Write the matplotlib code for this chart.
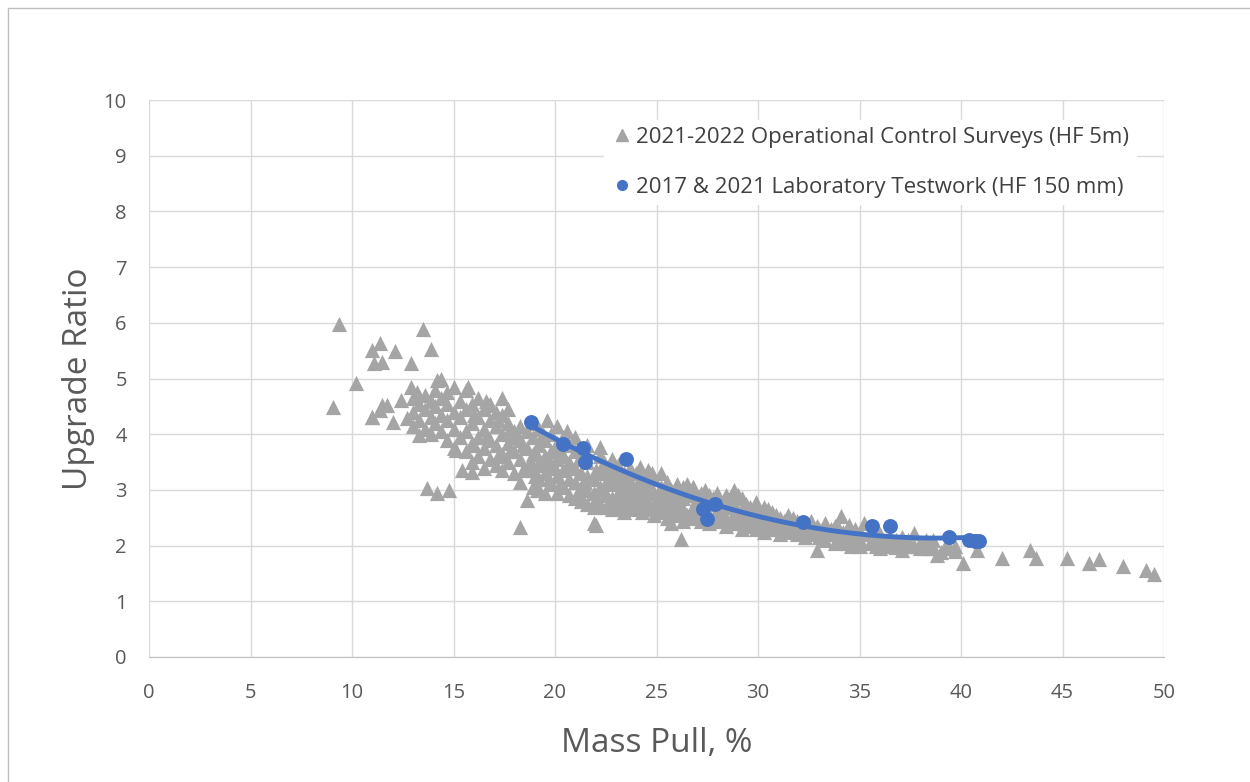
import matplotlib.pyplot as plt
import numpy as np
from matplotlib.lines import Line2D

# 2021-2022 operational control surveys (HF 5m)
survey_mass_pull = [
    9.06, 9.36, 10.2, 11.0, 11.4, 11.1, 11.5, 12.1, 11.0, 11.5, 12.9, 13.5, 13.9,
    11.0, 11.4, 11.7, 12.0, 12.4, 12.9, 13.2, 14.2, 14.4, 12.7, 13.3, 13.7, 14.2,
    14.8, 15.4, 15.9, 15.1, 15.7, 17.4, 16.7, 19.6, 18.6, 18.3, 21.9, 19.1, 26.2,
    22.0, 24.2, 26.8, 28.8, 25.7, 29.2, 31.5,
    34.1, 40.1, 42.0, 43.4, 43.7, 45.2, 46.3, 46.8, 48.0, 49.1, 49.5, 40.8,
    36.0, 37.1, 39.0, 37.7, 35.0, 34.5, 35.2, 32.9, 38.8,
    13.0, 13.0, 13.0, 13.3, 13.3, 13.6, 13.6, 13.6, 13.9, 13.9, 13.9,
    14.1, 14.1, 14.1, 14.4, 14.4, 14.4, 14.7, 14.7, 14.7, 14.7,
    15.0, 15.0, 15.0, 15.0, 15.3, 15.3, 15.3, 15.6, 15.6, 15.6, 15.6,
    15.9, 15.9, 15.9, 15.9, 16.2, 16.2, 16.2, 16.2, 16.5, 16.5, 16.5, 16.5,
    16.8, 16.8, 16.8, 16.8, 17.1, 17.1, 17.1, 17.1, 17.4, 17.4, 17.4, 17.4,
    17.7, 17.7, 17.7, 17.7, 18.0, 18.0, 18.0, 18.0, 18.3, 18.3, 18.3, 18.3,
    18.6, 18.6, 18.6, 18.9, 18.9, 18.9, 18.9, 19.2, 19.2, 19.2, 19.2, 19.2,
    19.5, 19.5, 19.5, 19.5, 19.8, 19.8, 19.8, 19.8, 20.1, 20.1, 20.1, 20.1, 20.1,
    20.4, 20.4, 20.4, 20.4, 20.7, 20.7, 20.7, 20.7, 21.0, 21.0, 21.0, 21.0, 21.0,
    21.3, 21.3, 21.3, 21.3, 21.6, 21.6, 21.6, 21.6, 21.6, 21.9, 21.9, 21.9,
    22.2, 22.2, 22.2, 22.2, 22.2, 22.5, 22.5, 22.5, 22.5, 22.8, 22.8, 22.8, 22.8, 22.8,
    23.1, 23.1, 23.1, 23.1, 23.4, 23.4, 23.4, 23.4, 23.7, 23.7, 23.7, 23.7,
    24.0, 24.0, 24.0, 24.0, 24.3, 24.3, 24.3, 24.3, 24.6, 24.6, 24.6, 24.6,
    24.9, 24.9, 24.9, 24.9, 25.2, 25.2, 25.2, 25.2, 25.5, 25.5, 25.5, 25.5,
    25.7, 25.7, 25.7, 26.0, 26.0, 26.0, 26.0, 26.3, 26.3, 26.3, 26.3,
    26.8, 26.8, 26.8, 26.8, 27.2, 27.2, 27.2, 27.2, 27.6, 27.6, 27.6, 27.6,
    28.0, 28.0, 28.0, 28.0, 28.4, 28.4, 28.4, 28.4, 28.8, 28.8, 28.8,
    29.2, 29.2, 29.2, 29.6, 29.6, 29.6, 29.9, 29.9, 29.9, 29.9,
    30.3, 30.3, 30.3, 30.3, 30.7, 30.7, 30.7, 31.1, 31.1, 31.1, 31.5, 31.5,
    31.9, 31.9, 31.9, 32.3, 32.3, 32.3, 32.9, 32.9, 33.3, 33.3, 33.3,
    33.8, 33.8, 33.8, 34.2, 34.2, 34.6, 34.6, 35.0, 35.0, 35.5, 35.5,
    36.0, 36.0, 36.5, 36.5, 37.1, 37.1, 37.7, 38.3, 38.3, 38.3, 39.3, 39.3, 39.7, 39.7,
    16.0, 16.0, 16.6, 16.6, 17.2, 17.2, 17.8, 17.8, 18.4, 18.4, 18.8, 18.8,
    19.0, 19.0, 19.4, 19.4, 19.7, 19.7, 20.0, 20.0, 20.3, 20.3, 20.6, 20.6,
    21.2, 21.2, 21.5, 21.5, 22.0, 22.0, 22.4, 22.4, 22.7, 22.7, 23.0, 23.0,
    23.3, 23.3, 23.6, 23.6, 24.2, 24.2, 24.5, 24.5, 24.8, 24.8, 25.1, 25.1,
    25.4, 25.4, 26.1, 26.1, 26.5, 26.5, 26.5, 27.0, 27.0, 27.4, 27.4, 27.8, 27.8,
    28.2, 28.2, 28.6, 28.6, 29.0, 29.0, 29.0, 29.4, 29.4, 30.1, 30.1, 30.5, 30.5,
    30.9, 30.9, 31.3, 31.3, 31.7, 31.7, 32.6, 32.6, 33.0, 33.0, 33.6, 33.6,
    34.0, 34.0, 34.4, 34.4, 34.8, 34.8, 35.8, 35.8, 36.3, 36.3, 36.8, 36.8,
    37.4, 37.4, 38.0, 38.0, 38.6, 38.6,
]
survey_upgrade = [
    4.49, 5.98, 4.92, 5.51, 5.64, 5.28, 5.30, 5.49, 4.31, 4.52, 5.28, 5.89, 5.53,
    4.31, 4.43, 4.52, 4.22, 4.61, 4.85, 4.76, 4.97, 5.00, 4.29, 3.99, 3.03, 2.94,
    3.00, 3.36, 3.33, 3.72, 4.85, 4.65, 4.52, 4.25, 2.82, 2.34, 2.40, 3.00, 2.12,
    2.37, 3.41, 3.05, 3.00, 2.41, 2.85, 2.55,
    2.53, 1.69, 1.78, 1.92, 1.78, 1.78, 1.69, 1.76, 1.63, 1.56, 1.49, 1.92,
    1.96, 1.92, 1.89, 2.22, 2.00, 2.37, 2.40, 1.92, 1.83,
    4.40, 4.15, 4.65, 4.25, 4.55, 4.45, 4.10, 4.70, 4.30, 4.00, 4.60,
    4.20, 4.50, 4.80, 4.05, 4.35, 4.65, 3.90, 4.25, 4.55, 4.75,
    4.10, 4.40, 3.75, 4.85, 3.95, 4.30, 4.60, 3.70, 4.05, 4.45, 4.80,
    3.85, 4.20, 4.55, 3.50, 3.60, 3.95, 4.30, 4.65, 3.75, 4.10, 4.45, 3.40,
    3.55, 3.90, 4.25, 4.55, 3.45, 3.80, 4.15, 4.40, 3.65, 4.00, 4.35, 3.35,
    3.50, 3.85, 4.20, 4.45, 3.30, 3.70, 4.05, 3.95, 3.15, 3.55, 3.90, 4.15,
    3.40, 3.75, 4.05, 3.05, 3.35, 3.65, 3.95, 3.20, 3.50, 3.80, 4.10, 3.00,
    2.95, 3.30, 3.60, 3.90, 3.10, 3.40, 3.70, 4.00, 2.95, 3.25, 3.55, 3.85, 4.15,
    3.05, 3.35, 3.60, 3.95, 2.90, 3.20, 3.50, 3.80, 2.85, 3.15, 3.40, 3.70, 3.95,
    2.80, 3.05, 3.30, 3.60, 2.75, 3.00, 3.25, 3.50, 3.80, 2.69, 2.95, 3.20,
    2.75, 3.05, 3.30, 3.60, 3.77, 2.70, 2.90, 3.15, 3.40, 2.65, 2.85, 3.10, 3.35, 3.55,
    2.75, 2.95, 3.20, 3.45, 2.60, 2.85, 3.05, 3.30, 2.70, 2.90, 3.15, 3.40,
    2.65, 2.85, 3.05, 3.30, 2.60, 2.80, 3.00, 3.25, 2.70, 2.95, 3.15, 3.35,
    2.55, 2.75, 2.95, 3.20, 2.65, 2.85, 3.05, 3.30, 2.50, 2.70, 2.90, 3.15,
    2.60, 2.80, 3.00, 2.55, 2.75, 2.95, 3.10, 2.45, 2.65, 2.85, 3.05,
    2.50, 2.70, 2.90, 3.05, 2.45, 2.60, 2.80, 2.95, 2.40, 2.55, 2.75, 2.90,
    2.45, 2.60, 2.80, 2.95, 2.35, 2.50, 2.70, 2.90, 2.40, 2.55, 2.75,
    2.30, 2.50, 2.65, 2.35, 2.50, 2.70, 2.30, 2.45, 2.60, 2.78,
    2.25, 2.40, 2.55, 2.70, 2.30, 2.45, 2.60, 2.20, 2.35, 2.50, 2.25, 2.40,
    2.20, 2.30, 2.45, 2.15, 2.30, 2.40, 2.20, 2.35, 2.10, 2.25, 2.40,
    2.05, 2.20, 2.35, 2.10, 2.25, 2.00, 2.15, 2.10, 2.25, 2.05, 2.20,
    2.10, 2.20, 2.05, 2.15, 2.05, 2.15, 2.00, 1.95, 2.05, 2.10, 1.95, 2.05, 1.90, 2.00,
    3.80, 4.35, 3.95, 4.60, 3.60, 4.25, 3.70, 4.10, 3.35, 3.80, 3.50, 4.20,
    3.25, 3.70, 3.45, 4.00, 3.20, 3.55, 3.40, 3.75, 3.15, 3.70, 3.40, 4.05,
    2.95, 3.55, 3.15, 3.70, 2.85, 3.35, 3.00, 3.50, 2.80, 3.25, 2.70, 3.40,
    2.95, 3.15, 2.80, 3.25, 2.75, 3.15, 2.85, 3.05, 2.65, 3.30, 2.75, 2.95,
    2.60, 3.05, 2.65, 2.85, 2.55, 2.95, 3.10, 2.55, 2.85, 2.70, 3.00, 2.50, 2.85,
    2.55, 2.75, 2.45, 2.85, 2.40, 2.60, 2.90, 2.45, 2.75, 2.35, 2.50, 2.40, 2.65,
    2.30, 2.55, 2.30, 2.45, 2.35, 2.50, 2.25, 2.45, 2.15, 2.30, 2.20, 2.30,
    2.15, 2.30, 2.05, 2.20, 2.10, 2.30, 2.00, 2.15, 2.00, 2.10, 1.98, 2.10,
    2.00, 2.10, 1.95, 2.05, 1.95, 2.10,
]

# 2017 & 2021 laboratory testwork (HF 150 mm)
lab_mass_pull = [18.8, 20.4, 21.4, 21.5, 23.5, 27.3, 27.5, 27.9, 32.2, 35.6, 36.5, 39.4, 40.4, 40.7, 40.9]
lab_upgrade = [4.22, 3.82, 3.75, 3.50, 3.55, 2.65, 2.48, 2.75, 2.42, 2.35, 2.35, 2.15, 2.10, 2.08, 2.08]

grey = '#A5A5A5'
blue = '#4472C4'
text_grey = '#595959'

plt.rcParams['font.family'] = ['Open Sans', 'DejaVu Sans']

W, H = 1250, 782
fig = plt.figure(figsize=(12.5, 7.82), dpi=100)
ax = fig.add_axes([149 / W, 1 - 657 / H, (1164 - 149) / W, (657 - 100) / H])

ax.scatter(survey_mass_pull, survey_upgrade, marker='^', s=120, color=grey, linewidths=0, zorder=3)

# polynomial trend line through the lab points (like the Excel trendline)
coef = np.polyfit(lab_mass_pull, lab_upgrade, 2)
xs = np.linspace(min(lab_mass_pull), max(lab_mass_pull), 200)
ax.plot(xs, np.polyval(coef, xs), color=blue, lw=3.5, zorder=4, solid_capstyle='round')
ax.scatter(lab_mass_pull, lab_upgrade, marker='o', s=115, color=blue, linewidths=0, zorder=5)

ax.set_xlim(0, 50)
ax.set_ylim(0, 10)
ax.set_xticks(range(0, 51, 5))
ax.set_yticks(range(0, 11))
ax.grid(True, color='#D9D9D9', lw=1)
ax.set_axisbelow(True)
for s in ['top', 'right', 'left']:
    ax.spines[s].set_visible(False)
ax.spines['bottom'].set_color('#BFBFBF')
ax.tick_params(length=0, labelsize=14.5, labelcolor=text_grey)
ax.tick_params(axis='x', pad=19)
ax.tick_params(axis='y', pad=16)

ax.set_xlabel('Mass Pull, %', fontsize=24, color=text_grey, labelpad=17)
ax.set_ylabel('Upgrade Ratio', fontsize=24, color=text_grey, labelpad=6)

handles = [
    Line2D([], [], marker='^', ls='none', color=grey, markersize=8),
    Line2D([], [], marker='o', ls='none', color=blue, markersize=7),
]
labels = ['2021-2022 Operational Control Surveys (HF 5m)', '2017 & 2021 Laboratory Testwork (HF 150 mm)']
leg = ax.legend(handles, labels, loc='upper right', bbox_to_anchor=(1136 / W, 1 - 120 / H),
                bbox_transform=fig.transFigure, fontsize=16,
                frameon=True, framealpha=1, edgecolor='white', facecolor='white', fancybox=False,
                handletextpad=0.15, handlelength=1.0, labelspacing=1.3, borderpad=0.3, borderaxespad=0)
leg.set_zorder(6)
for t in leg.get_texts():
    t.set_color('#404040')

# outer chart border (left and top only visible)
fig.add_artist(Line2D([8 / W, 8 / W], [0, 1 - 8 / H], color='#BFBFBF', lw=1))
fig.add_artist(Line2D([8 / W, 1], [1 - 8 / H, 1 - 8 / H], color='#BFBFBF', lw=1))

fig.savefig('out.png', dpi=100, facecolor='white')
